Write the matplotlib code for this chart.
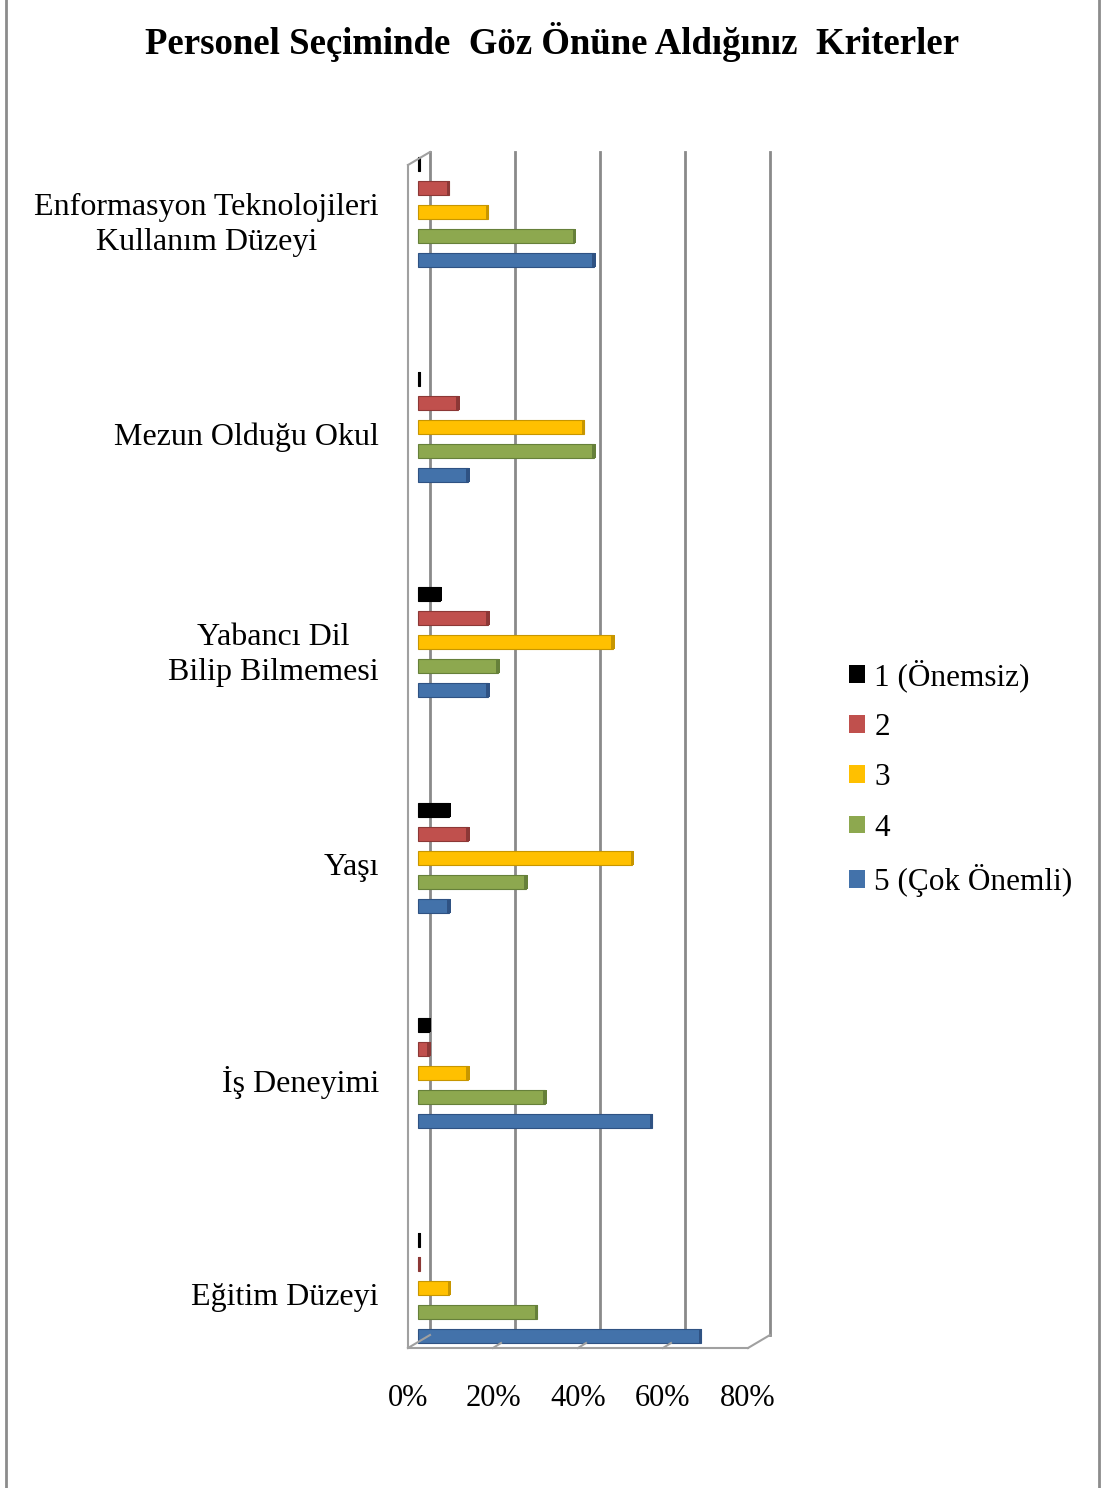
#personel seçiminde kriterler - 3B görünümlü yatay çubuk grafik
import numpy as np
import matplotlib.pyplot as plt
from matplotlib.transforms import ScaledTranslation, IdentityTransform
from matplotlib.lines import Line2D

plt.rcParams['font.family'] = ['Liberation Serif', 'DejaVu Serif']

kategoriler = ["Eğitim Düzeyi", "İş Deneyimi", "Yaşı",
               "Yabancı Dil\nBilip Bilmemesi", "Mezun Olduğu Okul",
               "Enformasyon Teknolojileri\nKullanım Düzeyi"]
seriler = ["1 (Önemsiz)", "2", "3", "4", "5 (Çok Önemli)"]
renkler = ["#000000", "#C0504D", "#FFC000", "#8DA84F", "#4372AA"]
kenar = ["#000000", "#8C3836", "#C79600", "#66803A", "#2F5283"]

# yüzdeler, kategoriler sırasıyla (Eğitim -> Enformasyon)
s1 = [0.4, 2.6, 7.3, 5.2, 0.4, 0.4]
s2 = [0.4, 2.6, 11.8, 16.5, 9.4, 7.2]
s3 = [7.4, 11.8, 50.4, 45.9, 39.0, 16.4]
s4 = [27.9, 29.9, 25.4, 18.8, 41.4, 36.8]
s5 = [66.5, 55.0, 7.3, 16.5, 11.8, 41.4]
degerler = [s1, s2, s3, s4, s5]

W, H = 1101, 1488
fig = plt.figure(figsize=(W / 100, H / 100), dpi=100)
ax = fig.add_axes([408 / W, (H - 1348) / H, 340 / W, 1183 / H])
ax.set_xlim(0, 80)
ax.set_ylim(-0.25, 5.25)
for s in ax.spines.values():
    s.set_visible(False)

arka = ax.transData + ScaledTranslation(0.22, 0.13, fig.dpi_scale_trans)
orta = ax.transData + ScaledTranslation(0.10, 0.065, fig.dpi_scale_trans)

# arka duvar çizgileri
for x in [0, 20, 40, 60, 80]:
    ax.plot([x, x], [-0.25, 5.25], color="#8a8a8a", lw=2, transform=arka,
            clip_on=False, zorder=1)
# ön sol çizgi ve zemin
ax.plot([0, 0], [-0.25, 5.25], color="#a0a0a0", lw=1.5, clip_on=False, zorder=1)
ax.plot([0, 80], [-0.25, -0.25], color="#a0a0a0", lw=1.5, clip_on=False, zorder=1)
on_ust = ax.transData.transform((0, 5.25))
arka_ust = arka.transform((0, 5.25))
on_sag = ax.transData.transform((80, -0.25))
arka_sag = arka.transform((80, -0.25))
fig.add_artist(Line2D([on_ust[0], arka_ust[0]], [on_ust[1], arka_ust[1]],
                      transform=IdentityTransform(), color="#a0a0a0", lw=1.5))
fig.add_artist(Line2D([on_sag[0], arka_sag[0]], [on_sag[1], arka_sag[1]],
                      transform=IdentityTransform(), color="#a0a0a0", lw=1.5))
on0 = ax.transData.transform((0, -0.25))
arka0 = arka.transform((0, -0.25))
fig.add_artist(Line2D([on0[0], arka0[0]], [on0[1], arka0[1]],
                      transform=IdentityTransform(), color="#a0a0a0", lw=1.5))
for x in [20, 40, 60]:
    p = ax.transData.transform((x, -0.25))
    fig.add_artist(Line2D([p[0], p[0] + 8], [p[1], p[1] + 5],
                          transform=IdentityTransform(), color="#a0a0a0", lw=1.5))

y = np.arange(len(kategoriler))
aralik = 24 / 215
yuk = 14 / 215
for i, (ad, d) in enumerate(zip(seriler, degerler)):
    yy = y + (2 - i) * aralik
    ax.barh(yy, d, height=yuk, color=renkler[i], edgecolor=kenar[i], lw=0.8,
            transform=orta, clip_on=False, zorder=3)
    # çubuk ucunda koyu yan yüz
    ax.barh(yy, [0.8] * len(d), left=np.array(d) - 0.4, height=yuk,
            color=kenar[i], lw=0, transform=orta, clip_on=False, zorder=4)
    # lejant için kare
    ax.barh([np.nan], [np.nan], color=renkler[i], lw=0, label=ad)

ax.set_xticks([0, 20, 40, 60, 80])
ax.set_xticklabels(["0%", "20%", "40%", "60%", "80%"], fontsize=22)
ax.set_yticks(y)
ax.set_yticklabels(kategoriler, fontsize=23)
plt.setp(ax.get_yticklabels(), multialignment="center", linespacing=1.25)
ax.tick_params(axis="x", length=0, pad=26)
ax.tick_params(axis="y", length=0, pad=21)

ax.legend(loc="center left", bbox_to_anchor=(821 / W, (H - 778) / H),
          bbox_transform=fig.transFigure, frameon=False, fontsize=22.5,
          handlelength=0.5, handleheight=0.5, handletextpad=0.3,
          labelspacing=0.68)

fig.text(552 / W, (H - 42) / H, "Personel Seçiminde  Göz Önüne Aldığınız  Kriterler",
         ha="center", va="center", fontsize=26.5, fontweight="bold")

# çerçeve
fig.add_artist(Line2D([6 / W, 6 / W], [0, 1], color="#8c8c8c", lw=2))
fig.add_artist(Line2D([1099 / W, 1099 / W], [0, 1], color="#8c8c8c", lw=2))

fig.savefig("out.png", dpi=100)
